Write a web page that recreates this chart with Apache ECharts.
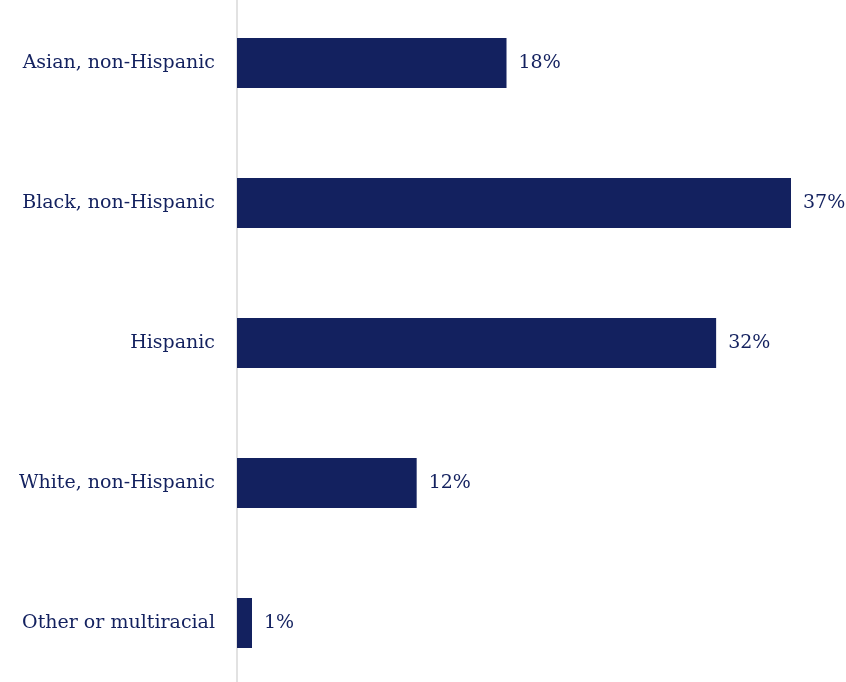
<!DOCTYPE html>
<html><head><meta charset="utf-8">
<script src="https://cdn.jsdelivr.net/npm/echarts@6/dist/echarts.min.js"></script>
<style>html,body{margin:0;padding:0;background:#fff;overflow:hidden}#c{width:846px;height:700px;margin-top:-7.5px}</style>
</head><body><div id="c"></div>
<script>
const categories = ["Asian, non-Hispanic", "Black, non-Hispanic", "Hispanic", "White, non-Hispanic", "Other or multiracial"];
const values = [18, 37, 32, 12, 1];

const navy = '#13215F';
const font = '"DejaVu Serif", serif';
const chart = echarts.init(document.getElementById('c'));
chart.setOption({
  animation: false,
  grid: { left: 237, width: 554, top: 0, height: 700 },
  xAxis: { type: 'value', min: 0, max: 37, show: false },
  yAxis: {
    type: 'category', data: categories, inverse: true,
    axisLine: { lineStyle: { color: '#d9d9d9', width: 1.5 } },
    axisTick: { show: false },
    axisLabel: { color: navy, fontFamily: font, fontSize: 19, margin: 22 }
  },
  series: [{
    type: 'bar', data: values, barWidth: 50,
    itemStyle: { color: navy },
    label: { show: true, position: 'right', distance: 12, formatter: '{c}%', color: navy, fontFamily: font, fontSize: 19 }
  }]
});
</script></body></html>
